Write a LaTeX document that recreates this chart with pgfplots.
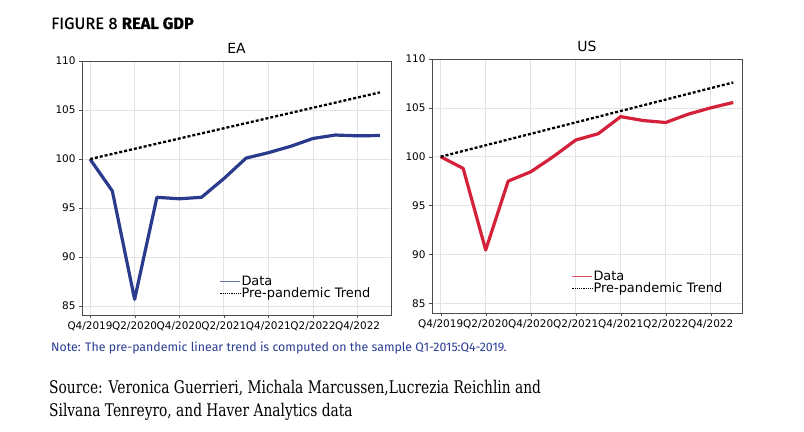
\documentclass[border=0pt]{standalone}
\usepackage{fontspec}
\usepackage{pgfplots}
\pgfplotsset{compat=1.18}
\setmainfont{DejaVu Sans}
\newfontfamily\headfont{Fira Sans}
\newfontfamily\srcfont[FakeStretch=0.79]{DejaVu Serif}
\definecolor{eablue}{HTML}{2A3A8C}
\definecolor{usred}{HTML}{D42139}
\definecolor{noteblue}{HTML}{2B3E94}

\pgfplotsset{
  gdp/.style={
    scale only axis,
    width=309bp, height=254bp,
    ymax=110,
    xtick={0,2,...,12},
    xticklabels={Q4/2019,Q2/2020,Q4/2020,Q2/2021,Q4/2021,Q2/2022,Q4/2022},
    ytick={85,90,...,110},
    grid=major,
    major grid style={gray!22, line width=0.6pt},
    tick align=outside, tick pos=left,
    major tick length=3bp,
    axis line style={gray!60!black},
    tick style={gray!60!black},
    ticklabel style={font=\fontsize{10.5}{12}\selectfont},
    xticklabel style={inner xsep=0pt},
    /pgf/number format/assume math mode=true,
    title style={font=\fontsize{14}{16}\selectfont, yshift=-2bp},
    legend style={draw=none, fill=none, anchor=south west,
      font=\fontsize{13}{14}\selectfont, row sep=-0.5bp,
      inner sep=0pt, nodes={inner sep=0.6pt}},
    legend cell align=left,
    legend image code/.code={\draw[#1] (0bp,0bp) -- (20bp,0bp);},
  },
  trend/.style={black, line width=2.3bp, dash pattern=on 3bp off 2bp},
}

\begin{document}
\begin{tikzpicture}
\fill[white] (0,0) rectangle (804bp,432bp);

\node[anchor=base west, inner sep=0pt] at (51bp,403bp)
  {\headfont\fontsize{16.5}{18}\selectfont\addfontfeatures{FakeBold=0.6}FIGURE 8 \textbf{REAL GDP}};

% ---- EA ----
\begin{axis}[gdp, at={(82bp,117bp)}, anchor=south west,
    xmin=-0.36, xmax=13.5, ymin=84.1,
    title={EA},
    legend style={at={(0.445,0.06)}}]
\addplot[eablue, line width=3.2bp, line join=round, forget plot] coordinates {
  (0,100) (1,96.75) (2,85.7) (3,96.1) (4,95.95) (5,96.1) (6,98.0)
  (7,100.1) (8,100.65) (9,101.3) (10,102.1) (11,102.45) (12,102.37) (13,102.4)
};
\addplot[trend, forget plot] coordinates {(0,100) (13,106.8)};
\addlegendimage{eablue!70, line width=1bp}
\addlegendentry{Data}
\addlegendimage{black, line width=1.2bp, dash pattern=on 1.2bp off 1bp}
\addlegendentry{Pre-pandemic Trend}
\end{axis}

% ---- US ----
\begin{axis}[gdp, at={(432bp,119bp)}, anchor=south west,
    width=310bp,
    xmin=-0.385, xmax=13.39, ymin=84.0,
    title={US},
    legend style={at={(0.45,0.07)}}]
\addplot[usred, line width=3.2bp, line join=round, forget plot] coordinates {
  (0,100) (1,98.8) (2,90.45) (3,97.5) (4,98.45) (5,100.0) (6,101.7)
  (7,102.35) (8,104.1) (9,103.7) (10,103.5) (11,104.35) (12,105.0) (13,105.55)
};
\addplot[trend, forget plot] coordinates {(0,100) (13,107.6)};
\addlegendimage{usred!80, line width=1bp}
\addlegendentry{Data}
\addlegendimage{black, line width=1.2bp, dash pattern=on 1.2bp off 1bp}
\addlegendentry{Pre-pandemic Trend}
\end{axis}

\node[anchor=base west, inner sep=0pt, text=noteblue] at (51bp,80bp)
  {\headfont\fontsize{12.4}{14}\selectfont Note: The pre-pandemic linear trend is computed on the sample Q1-2015:Q4-2019.};

\node[anchor=base west, inner sep=0pt] at (49bp,39bp)
  {\srcfont\fontsize{17.5}{20}\selectfont Source: Veronica Guerrieri, Michala Marcussen,Lucrezia Reichlin and};
\node[anchor=base west, inner sep=0pt] at (49bp,16bp)
  {\srcfont\fontsize{17.5}{20}\selectfont Silvana Tenreyro, and Haver Analytics data};
\end{tikzpicture}
\end{document}
